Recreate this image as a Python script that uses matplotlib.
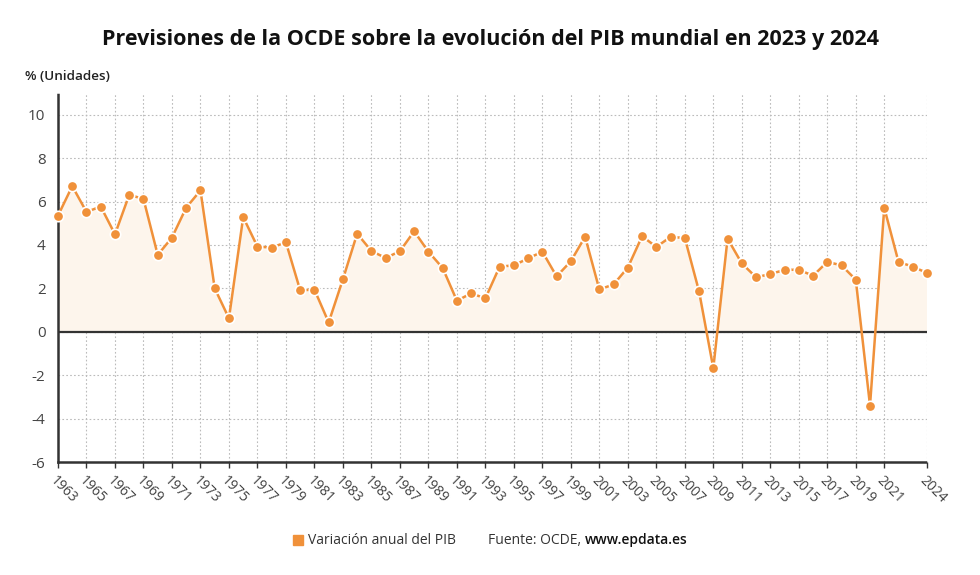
import matplotlib
matplotlib.use("Agg")
import matplotlib.pyplot as plt
import numpy as np

plt.rcParams['font.family'] = ['Open Sans', 'DejaVu Sans']

years = list(range(1963, 2025))
gdp_growth = [5.35, 6.71, 5.52, 5.77, 4.49, 6.31, 6.12, 3.54, 4.34, 5.72,
              6.51, 2.00, 0.62, 5.28, 3.92, 3.88, 4.12, 1.91, 1.94, 0.43,
              2.42, 4.52, 3.72, 3.40, 3.71, 4.63, 3.69, 2.94, 1.43, 1.77,
              1.54, 3.00, 3.06, 3.38, 3.69, 2.55, 3.25, 4.38, 1.95, 2.18,
              2.96, 4.40, 3.91, 4.37, 4.32, 1.86, -1.68, 4.29, 3.15, 2.51,
              2.66, 2.85, 2.86, 2.58, 3.22, 3.06, 2.40, -3.40, 5.71, 3.22,
              3.00, 2.71]
tick_years = list(range(1963, 2022, 2)) + [2024]
y_ticks = [-6, -4, -2, 0, 2, 4, 6, 8, 10]

title = "Previsiones de la OCDE sobre la evolución del PIB mundial en 2023 y 2024"
unit_label = "% (Unidades)"
series_name = "Variación anual del PIB"

orange = "#f0913a"
text_gray = "#444444"

fig = plt.figure(figsize=(9.8, 5.75), dpi=100)
ax = fig.add_axes([58/980, (575-462)/575, (927-58)/980, (462-93)/575])

x = np.array(years)
y = np.array(gdp_growth)

ax.fill_between(x, 0, y, where=y >= 0, interpolate=True, color="#fdf5ec", zorder=1, linewidth=0)
ax.axhline(0, color="#333333", linewidth=1.6, zorder=2)
ax.plot(x, y, color=orange, linewidth=1.8, marker='o', markersize=7.5,
        markerfacecolor=orange, markeredgecolor='white', markeredgewidth=1.2,
        zorder=4, clip_on=False)

ax.set_xlim(1963, 2024)
ax.set_ylim(-6, 11)
ax.set_xticks(tick_years)
ax.set_xticklabels([str(t) for t in tick_years], rotation=-45, ha='left', va='top',
                   rotation_mode='anchor', fontsize=10, color=text_gray)
ax.set_yticks(y_ticks)
ax.set_yticklabels([str(t) for t in y_ticks], fontsize=11, color=text_gray)

ax.grid(True, color="#bbbbbb", linestyle=(0, (1.5, 2)), linewidth=0.8, zorder=0)
ax.set_axisbelow(True)

for s in ['top', 'right']:
    ax.spines[s].set_visible(False)
for s in ['left', 'bottom']:
    ax.spines[s].set_linestyle((0, (1, 1)))
    ax.spines[s].set_linewidth(1.8)
    ax.spines[s].set_color("#333333")

ax.tick_params(axis='y', length=0, pad=9)
ax.tick_params(axis='x', length=4, width=1, color="#333333", pad=4)

fig.text(0.5, 1 - 40/575, title, ha='center', va='center', fontsize=15.5,
         fontweight='bold', color='#111111')
fig.text(25/980, 1 - 76/575, unit_label, ha='left', va='center', fontsize=9.7,
         fontweight='semibold', color='#222222')

# legend / source line
fig.patches.append(plt.Rectangle((293/980, 1 - 545/575), 10/980, 10/575,
                                 transform=fig.transFigure, color=orange))
fig.text(308/980, 1 - 540/575, series_name, ha='left', va='center', fontsize=10, color='#333333')
t1 = fig.text(488/980, 1 - 540/575, "Fuente: OCDE, ", ha='left', va='center', fontsize=10, color='#333333')
fig.canvas.draw()
bb = t1.get_window_extent()
fig.text(bb.x1 / fig.bbox.width, 1 - 540/575, "www.epdata.es", ha='left', va='center',
         fontsize=10, fontweight='semibold', color='#111111')

fig.savefig("out.png", dpi=100)
